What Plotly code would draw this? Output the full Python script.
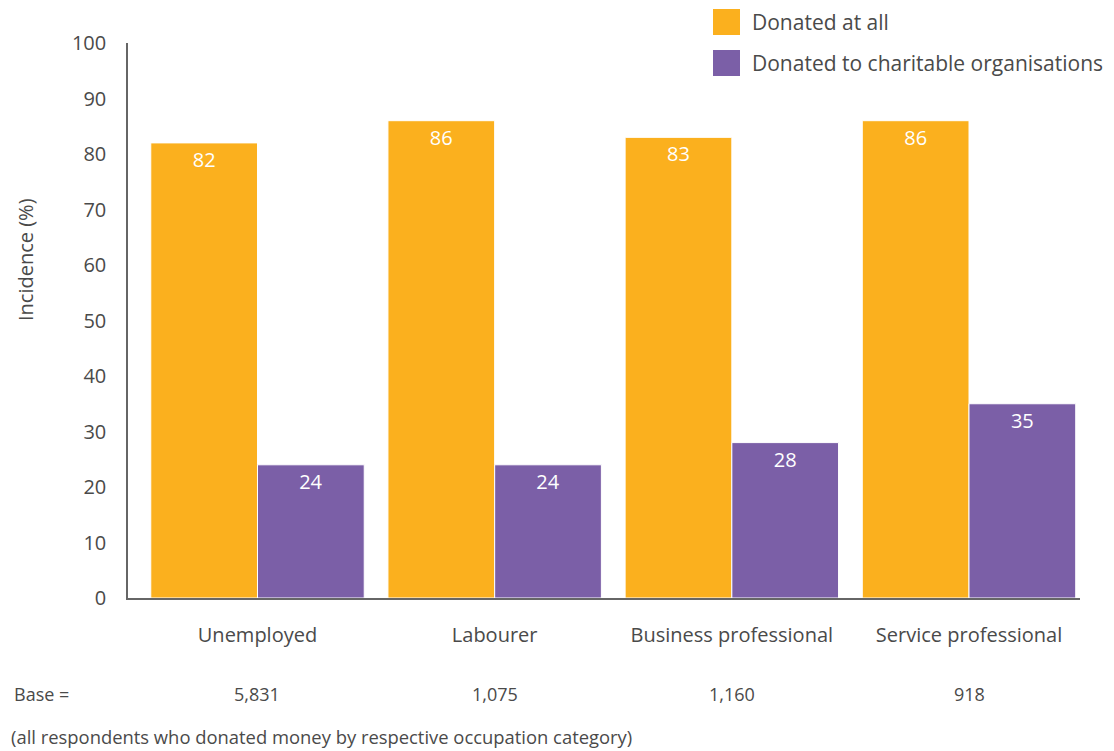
import plotly.graph_objects as go

categories = ["Unemployed", "Labourer", "Business professional", "Service professional"]
donated_at_all = [82, 86, 83, 86]
donated_charitable = [24, 24, 28, 35]
base_counts = ["5,831", "1,075", "1,160", "918"]
series_names = ["Donated at all", "Donated to charitable organisations"]
colors = ["#FBB01E", "#7B5FA7"]

FONT = "Open Sans"
TXT = "#4a4a4a"

# page offset (browser body margin) and figure geometry
OFF = 8
W, H = 1106, 743
L, R, T, B = 120, 34, 35, 153
PW = W - L - R
PH = H - T - B


def px(X):
    return (X - OFF - L) / PW


def py(Y):
    return (H - B - (Y - OFF)) / PH


fig = go.Figure()
for name, vals, col in zip(series_names, [donated_at_all, donated_charitable], colors):
    fig.add_trace(go.Bar(
        x=categories, y=vals, name=name,
        marker=dict(color=col, line=dict(color="white", width=1)),
        text=[str(v) for v in vals], textposition="inside", insidetextanchor="end",
        textfont=dict(color="white", size=20, family=FONT),
        showlegend=False,
    ))

# custom legend (squares + text)
leg_y = [22, 63]
for name, col, yc in zip(series_names, colors, leg_y):
    fig.add_shape(type="rect", xref="paper", yref="paper",
                  x0=px(713), x1=px(740), y0=py(yc + 13), y1=py(yc - 13),
                  fillcolor=col, line=dict(width=0))
    fig.add_annotation(xref="paper", yref="paper", x=px(750), y=py(yc), text=name,
                       showarrow=False, xanchor="left", yanchor="middle",
                       font=dict(size=21, color=TXT, family=FONT))

# base row
fig.add_annotation(xref="paper", yref="paper", x=px(12), y=py(694), text="Base =",
                   showarrow=False, xanchor="left", yanchor="middle",
                   font=dict(size=18, color=TXT, family=FONT))
for c, b in zip(categories, base_counts):
    fig.add_annotation(xref="x", yref="paper", x=c, y=py(694), text=b, showarrow=False,
                       xanchor="center", yanchor="middle",
                       font=dict(size=18, color=TXT, family=FONT))
fig.add_annotation(xref="paper", yref="paper", x=px(9), y=py(736),
                   text="(all respondents who donated money by respective occupation category)",
                   showarrow=False, xanchor="left", yanchor="middle",
                   font=dict(size=18.4, color=TXT, family=FONT))
# y title
fig.add_annotation(xref="paper", yref="paper", x=px(25), y=py(260), text="Incidence (%)",
                   textangle=-90, showarrow=False, xanchor="center", yanchor="middle",
                   font=dict(size=20, color=TXT, family=FONT))

fig.update_layout(
    width=W, height=H, barmode="group", bargap=0.1, bargroupgap=0,
    plot_bgcolor="white", paper_bgcolor="white",
    margin=dict(l=L, r=R, t=T, b=B),
    font=dict(family=FONT, color=TXT),
)
fig.update_yaxes(range=[0, 100], dtick=10, showgrid=False, zeroline=False,
                 showline=True, linecolor="#666", linewidth=1.5,
                 ticks="", ticklabelstandoff=16, tickfont=dict(size=20, color=TXT))
fig.update_xaxes(range=[-0.546, 3.468], showline=True, linecolor="#666", linewidth=1.5,
                 ticks="", ticklabelstandoff=18, tickfont=dict(size=20, color=TXT))

fig.write_html("out.html")
